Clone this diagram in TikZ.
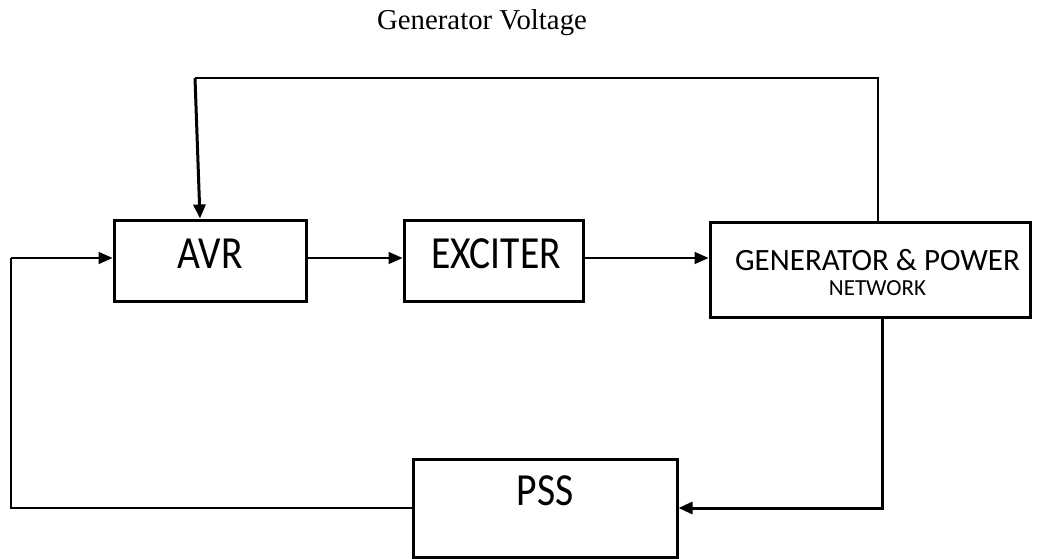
\documentclass[tikz,border=0pt]{standalone}
\usepackage{fontspec}
\usepackage{graphicx}
\setmainfont{Liberation Serif}
\newfontfamily\boxfont{Carlito}
\usetikzlibrary{arrows.meta}
\newcommand{\narrowtext}[1]{\scalebox{0.86}[1]{\boxfont\fontsize{46}{46}\selectfont #1}}
\begin{document}
\begin{tikzpicture}[x=1pt,y=1pt,
  blockbox/.style={draw, line width=3pt, inner sep=0pt},
  conn/.style={line width=1.8pt, -{Triangle[length=14pt,width=12pt]}},
  plainconn/.style={line width=1.8pt},
  lbl/.style={anchor=base, inner sep=0pt}]
\useasboundingbox (0,0) rectangle (1042,-559);
% blocks
\node[blockbox, minimum width=192pt, minimum height=81pt] (avr) at (210,-260.5) {};
\node[blockbox, minimum width=179pt, minimum height=81pt] (exc) at (493.5,-260.5) {};
\node[blockbox, minimum width=320pt, minimum height=95pt] (gen) at (870,-269.5) {};
\node[blockbox, minimum width=264pt, minimum height=98pt] (pss) at (545,-508) {};
% labels
\node[lbl] (avrt) at (210,-268) {\narrowtext{AVR}};
\node[lbl] (exct) at (496,-268) {\narrowtext{EXCITER}};
\node[lbl, font=\boxfont\fontsize{31}{31}\selectfont] (gent1) at (877.5,-270) {GENERATOR \& POWER};
\node[lbl, font=\boxfont\fontsize{23}{23}\selectfont] (gent2) at (877.5,-295) {NETWORK};
\node[lbl] (psst) at (545,-505) {\narrowtext{PSS}};
\node[lbl, font=\fontsize{28.8}{28.8}\selectfont] (gv) at (482,-30) {Generator Voltage};
% helper coordinates
\coordinate (y258) at (0,-258);
\coordinate (tl) at (195,-78);
\coordinate (lft) at (11,-258);
% connectors
\draw[conn] (avr.east |- y258) -- (exc.west |- y258);
\draw[conn] (exc.east |- y258) -- (gen.west |- y258);
\draw[plainconn] ([xshift=8pt]gen.north) |- (tl);
\draw[conn, line width=3pt] (tl) -- ([xshift=-10pt]avr.north);
\draw[conn, line width=3pt] ([xshift=12pt]gen.south) |- (pss.east);
\draw[plainconn] (pss.west) -| (lft);
\draw[conn] (lft) -- (avr.west |- lft);
\end{tikzpicture}
\end{document}
